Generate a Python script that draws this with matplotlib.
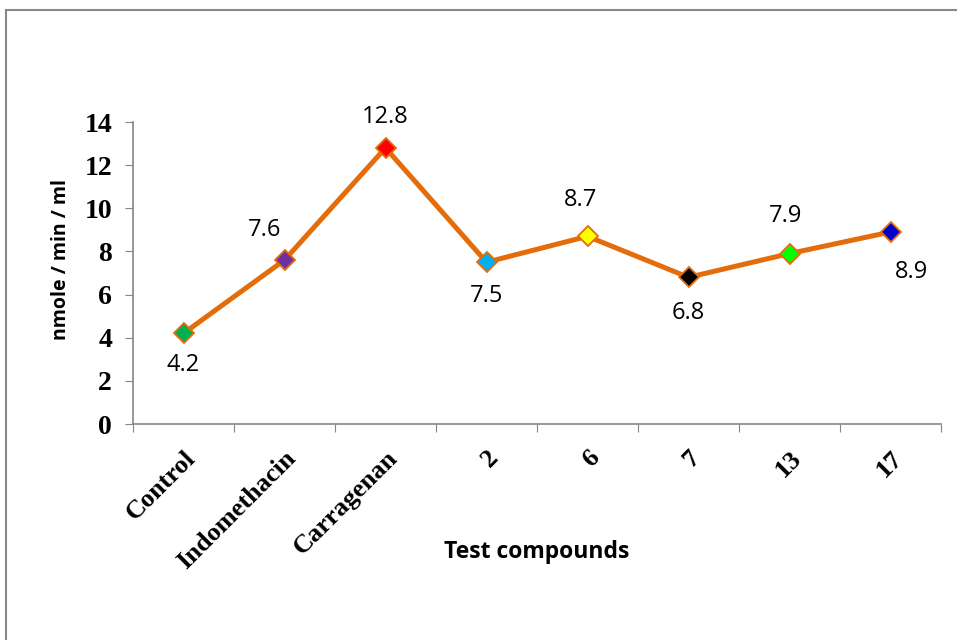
import matplotlib.pyplot as plt
from matplotlib.patches import Rectangle

categories = ["Control", "Indomethacin", "Carragenan", "2", "6", "7", "13", "17"]
values = [4.2, 7.6, 12.8, 7.5, 8.7, 6.8, 7.9, 8.9]
marker_colors = ["#00B050", "#7030A0", "#FF0000", "#00B0F0", "#FFFF00", "#000000", "#00FF00", "#0000CC"]
# label offsets in points (dx, dy)
label_offsets = [(0, -23), (-14, 22), (0, 22), (0, -24), (-5, 26), (0, -26), (-3, 27), (15, -29)]

fig = plt.figure(figsize=(9.57, 6.4), dpi=100)
fig.patches.append(Rectangle((5.5 / 957, -0.1), 1.2, 1.1 - 10.5 / 640, transform=fig.transFigure,
                             fill=False, edgecolor="#888888", linewidth=1.5))
ax = fig.add_axes([133 / 957, 1 - 424 / 640, 808 / 957, (424 - 122) / 640])

x = list(range(len(categories)))
ax.plot(x, values, color="#E46C0A", linewidth=3.6, zorder=2)
for xi, v, c in zip(x, values, marker_colors):
    ax.plot(xi, v, marker="D", markersize=10.5, markerfacecolor=c, markeredgecolor="#E46C0A",
            markeredgewidth=1.3, zorder=3)
for xi, v, (dx, dy) in zip(x, values, label_offsets):
    ax.annotate(f"{v}", (xi, v), xytext=(dx, dy), textcoords="offset points", ha="center", va="center",
                fontsize=17, family="Open Sans")

ax.set_xlim(-0.5, len(categories) - 0.5)
ax.set_ylim(0, 14)
ax.set_yticks(range(0, 15, 2))
ax.set_yticklabels([str(t) for t in range(0, 15, 2)], family="Liberation Serif", fontweight="bold", fontsize=20)
ax.set_xticks([i - 0.5 for i in range(len(categories) + 1)])
ax.set_xticklabels([])
ax.set_xticks(x, minor=True)
ax.set_xticklabels(categories, minor=True, rotation=45, ha="right", rotation_mode="anchor",
                   family="Liberation Serif", fontweight="bold", fontsize=19)
ax.tick_params(axis="x", which="minor", length=0, pad=16)
ax.tick_params(axis="x", which="major", length=6, direction="out", color="#868686")
ax.tick_params(axis="y", length=6, direction="out", color="#868686", pad=9)

for s in ["top", "right"]:
    ax.spines[s].set_visible(False)
for s in ["left", "bottom"]:
    ax.spines[s].set_color("#868686")
    ax.spines[s].set_linewidth(1.2)

fig.text(61 / 957, 1 - 259 / 640, "nmole / min / ml", family="Open Sans", fontweight="bold", fontsize=14,
         rotation=90, ha="center", va="center")
fig.text(537 / 957, 1 - 552 / 640, "Test compounds", family="Open Sans", fontweight="bold", fontsize=16.5,
         ha="center", va="center")

fig.savefig("out.png", dpi=100)
